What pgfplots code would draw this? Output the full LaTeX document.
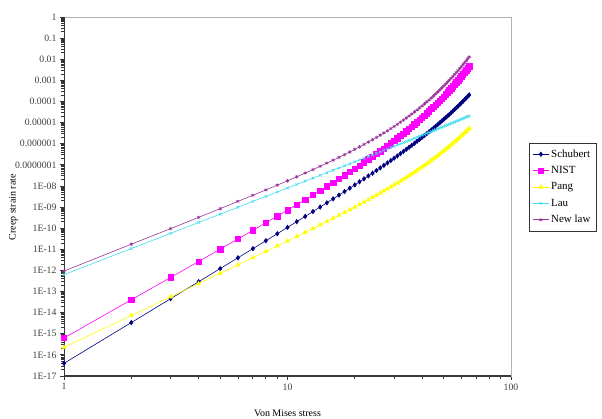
\documentclass[border=0pt]{standalone}
\usepackage{fontspec}
\setmainfont{Liberation Serif}
\usepackage{pgfplots}
\usepackage{pgfplotstable}
\pgfplotsset{compat=1.18}

\definecolor{cSchubert}{HTML}{000080}
\definecolor{cNIST}{HTML}{FF00FF}
\definecolor{cPang}{HTML}{FFFF00}
\definecolor{cLau}{HTML}{40DDF2}
\definecolor{cNew}{HTML}{993399}

% creep strain rate vs von Mises stress
\pgfplotstableread{
x y
1 3.98e-17
2 3.39e-15
3 4.58e-14
4 2.90e-13
5 1.22e-12
6 3.96e-12
7 1.07e-11
8 2.55e-11
9 5.48e-11
10 1.09e-10
11 2.04e-10
12 3.61e-10
13 6.12e-10
14 1.00e-9
15 1.59e-9
16 2.45e-9
17 3.69e-9
18 5.43e-9
19 7.87e-9
20 1.12e-8
21 1.57e-8
22 2.18e-8
23 2.98e-8
24 4.03e-8
25 5.40e-8
26 7.16e-8
27 9.42e-8
28 1.23e-7
29 1.60e-7
30 2.06e-7
31 2.63e-7
32 3.37e-7
33 4.26e-7
34 5.38e-7
35 6.75e-7
36 8.45e-7
37 1.05e-6
38 1.31e-6
39 1.61e-6
40 2.00e-6
41 2.45e-6
42 3.01e-6
43 3.68e-6
44 4.50e-6
45 5.47e-6
46 6.65e-6
47 8.05e-6
48 9.75e-6
49 1.18e-5
50 1.42e-5
51 1.71e-5
52 2.06e-5
53 2.47e-5
54 2.96e-5
55 3.55e-5
56 4.25e-5
57 5.07e-5
58 6.05e-5
59 7.21e-5
60 8.59e-5
61 1.02e-4
62 1.22e-4
63 1.45e-4
64 1.72e-4
65 2.04e-4
}\schubert

\pgfplotstableread{
x y
1 6.31e-16
2 4.06e-14
3 4.65e-13
4 2.64e-12
5 1.02e-11
6 3.08e-11
7 7.89e-11
8 1.79e-10
9 3.71e-10
10 7.14e-10
11 1.30e-9
12 2.25e-9
13 3.75e-9
14 6.05e-9
15 9.48e-9
16 1.45e-8
17 2.18e-8
18 3.20e-8
19 4.63e-8
20 6.61e-8
21 9.29e-8
22 1.29e-7
23 1.79e-7
24 2.44e-7
25 3.30e-7
26 4.44e-7
27 5.93e-7
28 7.87e-7
29 1.04e-6
30 1.36e-6
31 1.78e-6
32 2.32e-6
33 3.01e-6
34 3.89e-6
35 5.00e-6
36 6.43e-6
37 8.21e-6
38 1.05e-5
39 1.34e-5
40 1.70e-5
41 2.16e-5
42 2.74e-5
43 3.46e-5
44 4.37e-5
45 5.50e-5
46 6.92e-5
47 8.69e-5
48 1.09e-4
49 1.37e-4
50 1.72e-4
51 2.15e-4
52 2.69e-4
53 3.36e-4
54 4.20e-4
55 5.24e-4
56 6.53e-4
57 8.14e-4
58 1.01e-3
59 1.26e-3
60 1.57e-3
61 1.95e-3
62 2.43e-3
63 3.02e-3
64 3.76e-3
65 4.67e-3
}\nist

\pgfplotstableread{
x y
1 2.29e-16
2 7.35e-15
3 5.60e-14
4 2.37e-13
5 7.29e-13
6 1.83e-12
7 4.00e-12
8 7.89e-12
9 1.44e-11
10 2.48e-11
11 4.06e-11
12 6.38e-11
13 9.70e-11
14 1.44e-10
15 2.07e-10
16 2.94e-10
17 4.08e-10
18 5.58e-10
19 7.53e-10
20 1.00e-9
21 1.32e-9
22 1.72e-9
23 2.23e-9
24 2.86e-9
25 3.64e-9
26 4.60e-9
27 5.79e-9
28 7.24e-9
29 9.02e-9
30 1.12e-8
31 1.37e-8
32 1.69e-8
33 2.07e-8
34 2.53e-8
35 3.07e-8
36 3.73e-8
37 4.51e-8
38 5.45e-8
39 6.55e-8
40 7.89e-8
41 9.45e-8
42 1.13e-7
43 1.35e-7
44 1.62e-7
45 1.93e-7
46 2.30e-7
47 2.73e-7
48 3.24e-7
49 3.84e-7
50 4.55e-7
51 5.39e-7
52 6.38e-7
53 7.53e-7
54 8.89e-7
55 1.05e-6
56 1.24e-6
57 1.46e-6
58 1.72e-6
59 2.02e-6
60 2.38e-6
61 2.80e-6
62 3.29e-6
63 3.86e-6
64 4.54e-6
65 5.33e-6
}\pang

\pgfplotstableread{
x y
1 6.31e-13
2 1.08e-11
3 5.70e-11
4 1.86e-10
5 4.63e-10
6 9.79e-10
7 1.85e-9
8 3.19e-9
9 5.18e-9
10 7.98e-9
11 1.18e-8
12 1.69e-8
13 2.35e-8
14 3.18e-8
15 4.24e-8
16 5.52e-8
17 7.10e-8
18 8.97e-8
19 1.12e-7
20 1.39e-7
21 1.70e-7
22 2.06e-7
23 2.48e-7
24 2.96e-7
25 3.50e-7
26 4.12e-7
27 4.82e-7
28 5.61e-7
29 6.50e-7
30 7.50e-7
31 8.58e-7
32 9.82e-7
33 1.12e-6
34 1.27e-6
35 1.43e-6
36 1.61e-6
37 1.81e-6
38 2.02e-6
39 2.26e-6
40 2.52e-6
41 2.79e-6
42 3.10e-6
43 3.42e-6
44 3.78e-6
45 4.16e-6
46 4.57e-6
47 5.01e-6
48 5.50e-6
49 6.00e-6
50 6.56e-6
51 7.14e-6
52 7.76e-6
53 8.43e-6
54 9.16e-6
55 9.92e-6
56 1.07e-5
57 1.16e-5
58 1.25e-5
59 1.35e-5
60 1.46e-5
61 1.57e-5
62 1.69e-5
63 1.81e-5
64 1.94e-5
65 2.08e-5
}\lau

\pgfplotstableread{
x y
1 9.33e-13
2 1.74e-11
3 9.55e-11
4 3.24e-10
5 8.41e-10
6 1.86e-9
7 3.61e-9
8 6.49e-9
9 1.09e-8
10 1.76e-8
11 2.73e-8
12 4.09e-8
13 5.97e-8
14 8.53e-8
15 1.20e-7
16 1.66e-7
17 2.26e-7
18 3.05e-7
19 4.06e-7
20 5.38e-7
21 7.08e-7
22 9.23e-7
23 1.20e-6
24 1.55e-6
25 1.98e-6
26 2.54e-6
27 3.23e-6
28 4.10e-6
29 5.20e-6
30 6.58e-6
31 8.28e-6
32 1.04e-5
33 1.31e-5
34 1.64e-5
35 2.05e-5
36 2.56e-5
37 3.20e-5
38 4.00e-5
39 4.98e-5
40 6.19e-5
41 7.70e-5
42 9.57e-5
43 1.19e-4
44 1.48e-4
45 1.83e-4
46 2.28e-4
47 2.82e-4
48 3.49e-4
49 4.33e-4
50 5.36e-4
51 6.63e-4
52 8.20e-4
53 1.02e-3
54 1.26e-3
55 1.55e-3
56 1.92e-3
57 2.38e-3
58 2.94e-3
59 3.63e-3
60 4.49e-3
61 5.55e-3
62 6.85e-3
63 8.47e-3
64 1.05e-2
65 1.29e-2
}\newlaw

\begin{document}
\begin{tikzpicture}
\path[use as bounding box] (0,0) rectangle (602bp,419bp);
\begin{axis}[
    at={(64bp,43bp)}, anchor=south west,
    scale only axis, width=447bp, height=359bp,
    xmode=log, ymode=log,
    xmin=1, xmax=100, ymin=1e-17, ymax=1,
    xtick={1,10,100}, xticklabels={1,10,100},
    ytick={1e-17,1e-16,1e-15,1e-14,1e-13,1e-12,1e-11,1e-10,1e-9,1e-8,1e-7,1e-6,1e-5,1e-4,1e-3,1e-2,1e-1,1},
    yticklabels={1E-17,1E-16,1E-15,1E-14,1E-13,1E-12,1E-11,1E-10,1E-09,1E-08,0.0000001,0.000001,0.00001,0.0001,0.001,0.01,0.1,1},
    minor tick num=0, minor xtick={}, minor ytick={},
    tick align=outside, major tick length=4bp,
    tick style={gray!40!black, line width=0.8pt},
    xtick pos=bottom, ytick pos=left,
    ticklabel style={font=\fontsize{9.8}{11}\selectfont, text=black!75},
    axis line style={draw=gray!60, line width=0.6pt},
    xlabel={Von Mises stress}, ylabel={Creep strain rate},
    label style={font=\fontsize{12}{14}\selectfont, text=black!80},
    every axis x label/.style={at={(axis description cs:0.5,-0.103)}, anchor=center},
    every axis y label/.style={at={(axis description cs:-0.113,0.47)}, anchor=center, rotate=90},
    legend style={at={(1.04,0.649)}, anchor=north west, draw=gray!40!black,
        font=\fontsize{11}{13}\selectfont, row sep=3.6bp, inner xsep=3.5bp, inner ysep=4.5bp},
    legend cell align=left,
    legend image code/.code={\draw[mark repeat=2,mark phase=2] plot coordinates {(0bp,0bp) (8bp,0bp) (16bp,0bp)};},
]
\draw[gray!45!black, line width=1.1pt] (rel axis cs:0,1) -- (rel axis cs:0,0) -- (rel axis cs:1,0);
\addplot[color=cSchubert, line width=0.6pt, mark=diamond*, mark size=2.2bp] table {\schubert};
\addplot[color=cNIST, line width=0.6pt, mark=square*, mark size=2.7bp] table {\nist};
\addplot[color=cPang, line width=0.6pt, mark=triangle*, mark size=2.3bp] table {\pang};
\addplot[color=cLau, line width=0.6pt, mark=x, mark size=1.8bp] table {\lau};
\addplot[color=cNew, line width=0.6pt, mark=asterisk, mark size=1.8bp] table {\newlaw};
\legend{Schubert, NIST, Pang, Lau, New law}
\end{axis}
\end{tikzpicture}
\end{document}
